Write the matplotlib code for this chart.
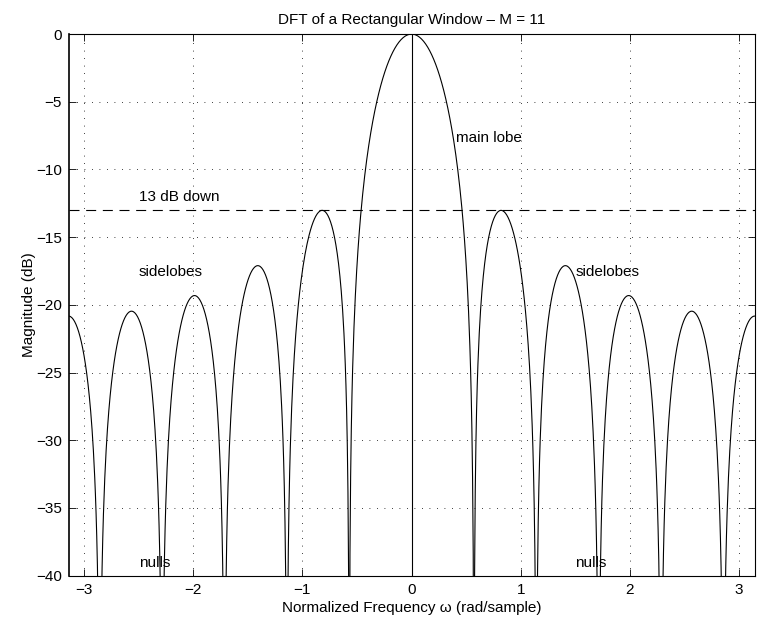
import numpy as np
import matplotlib
matplotlib.use("Agg")
from matplotlib import pyplot as plt

# rectangular window, M samples, zero-padded DFT
M = 11
window = np.ones(M)
N = 1024

x_ticks = [-3, -2, -1, 0, 1, 2, 3]
y_ticks = [-40, -35, -30, -25, -20, -15, -10, -5, 0]
down_db = -13

labels = ["main lobe", "13 dB down", "sidelobes", "sidelobes", "nulls", "nulls"]
label_x = [0.41, -2.5, -2.5, 1.5, -2.5, 1.5]
label_y = [-7.7, -12.0, -17.6, -17.6, -39.05, -39.05]

W = np.fft.fftshift(np.fft.fft(window, N))
w = np.fft.fftshift(np.fft.fftfreq(N)) * 2 * np.pi
w = np.append(w, np.pi)
W = np.append(W, W[0])
mag = np.abs(W)
db = 20 * np.log10(np.maximum(mag / mag.max(), 1e-12))

plt.rcParams['font.family'] = ['Liberation Sans', 'DejaVu Sans']
plt.rcParams['font.size'] = 11

fig = plt.figure(figsize=(7.58, 6.2), dpi=100)
ax = fig.add_axes([0.0905, 0.0715, 0.905, 0.8735])

ax.plot(w, db, color='k', lw=0.8)
ax.plot([0, 0], [-40, 0], color='k', lw=0.8)
ax.axhline(down_db, color='k', lw=0.8, ls=(0, (9, 6)))

for t, x, y in zip(labels, label_x, label_y):
    ax.text(x, y, t, ha='left', va='center')

ax.set_xlim(-np.pi, np.pi)
ax.set_ylim(-40, 0)
ax.set_xticks(x_ticks)
ax.set_yticks(y_ticks)
ax.set_xticklabels([str(v).replace('-', '\u2212') for v in x_ticks])
ax.set_yticklabels([str(v).replace('-', '\u2212') for v in y_ticks])
ax.tick_params(direction='in', top=True, right=True, length=5, width=0.6, pad=5)
ax.grid(True, color='k', ls=(0, (1, 8)), lw=0.6)
for s in ax.spines.values():
    s.set_linewidth(0.8)
ax.spines['left'].set_linewidth(1.2)

ax.set_title("DFT of a Rectangular Window \u2013 M = 11", fontsize=11, pad=7)
ax.set_xlabel("Normalized Frequency \u03c9 (rad/sample)", labelpad=3)
ax.set_ylabel("Magnitude (dB)", labelpad=0)

fig.savefig("out.png", dpi=100)
